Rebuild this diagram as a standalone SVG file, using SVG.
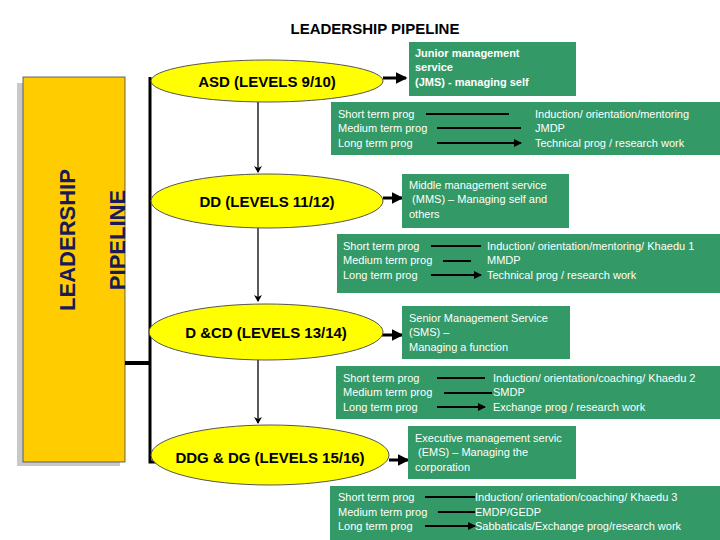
<svg xmlns="http://www.w3.org/2000/svg" width="720" height="540" viewBox="0 0 720 540">
<style>
text{font-family:"Liberation Sans",Arial,sans-serif}
.t{font-size:15px;font-weight:bold;fill:#000}
.g{fill:#339966}
.w{font-size:11px;fill:#fff}
.el{fill:#ffff00;stroke:#555;stroke-width:1}
.a{stroke:#000;stroke-width:2;fill:none;marker-end:url(#ah)}
.b{stroke:#000;stroke-width:3;fill:none;marker-end:url(#ah)}
.v{stroke:#000;stroke-width:1.3;fill:none;marker-end:url(#av)}
</style>
<defs>
<marker id="ah" markerWidth="4" markerHeight="4" refX="3.5" refY="2" orient="auto"><path d="M0,0L4,2L0,4z" fill="#000"/></marker>
<marker id="av" markerWidth="7" markerHeight="8" refX="6" refY="4" orient="auto" markerUnits="userSpaceOnUse"><path d="M0,0L7,4L0,8L2,4z" fill="#000"/></marker>
</defs>
<rect width="720" height="540" fill="#fff"/>
<text x="375" y="34" class="t" text-anchor="middle">LEADERSHIP PIPELINE</text>
<g id="side">
<rect x="17" y="83" width="103" height="383" fill="#c8c8c8"/>
<rect x="23" y="77" width="102" height="385" fill="#ffcc00" stroke="#444" stroke-width="0.8"/>
<text transform="translate(75,240) rotate(-90)" text-anchor="middle" style="font-size:22px;font-weight:bold;fill:#1a1a5a">LEADERSHIP</text>
<text transform="translate(125,240) rotate(-90)" text-anchor="middle" style="font-size:22px;font-weight:bold;fill:#1a1a5a">PIPELINE</text>
</g>
<g id="connectors">
<path d="M150,77V462H160" stroke="#000" stroke-width="3" fill="none"/>
<path d="M125,363H150" stroke="#000" stroke-width="4" fill="none"/>
<path d="M258,102V172" class="v"/>
<path d="M258,228V301" class="v"/>
<path d="M258,360V423" class="v"/>
<path d="M383,78H406" class="b"/>
<path d="M383,198H402" class="b"/>
<path d="M382,335H402" class="b"/>
<path d="M389,460H408" class="b"/>
</g>
<g id="asd"><ellipse cx="267" cy="81" rx="116" ry="21" class="el"/><text x="267" y="87" class="t" text-anchor="middle">ASD (LEVELS 9/10)</text></g>
<g id="dd"><ellipse cx="267" cy="201" rx="116" ry="27" class="el"/><text x="267" y="207" class="t" text-anchor="middle">DD (LEVELS 11/12)</text></g>
<g id="dcd"><ellipse cx="266" cy="332" rx="117" ry="28" class="el"/><text x="266" y="338" class="t" text-anchor="middle">D &amp;CD (LEVELS 13/14)</text></g>
<g id="ddg"><ellipse cx="270" cy="455" rx="119" ry="30" class="el"/><text x="270" y="463" class="t" text-anchor="middle">DDG &amp; DG (LEVELS 15/16)</text></g>
<g id="jms"><rect x="409" y="42" width="167" height="54" class="g"/>
<text class="w" font-weight="bold"><tspan x="415" y="57">Junior management</tspan><tspan x="415" y="71">service</tspan><tspan x="415" y="86">(JMS)  - managing self</tspan></text></g>
<g id="mms"><rect x="402" y="174" width="167" height="54" class="g"/>
<text class="w"><tspan x="409" y="189">Middle management service</tspan><tspan x="409" y="203"> (MMS) – Managing self and</tspan><tspan x="409" y="218">others</tspan></text></g>
<g id="sms"><rect x="402" y="306" width="168" height="53" class="g"/>
<text class="w"><tspan x="409" y="322">Senior Management  Service</tspan><tspan x="409" y="336">(SMS) –</tspan><tspan x="409" y="351">Managing a function</tspan></text></g>
<g id="ems"><rect x="408" y="426" width="168" height="53" class="g"/>
<text class="w"><tspan x="415" y="442">Executive management servic</tspan><tspan x="415" y="456"> (EMS) – Managing the</tspan><tspan x="415" y="471">corporation</tspan></text></g>
<g id="prog1"><rect x="331" y="102" width="389" height="53" class="g"/>
<text class="w"><tspan x="338" y="118">Short term prog</tspan><tspan x="338" y="132">Medium term prog</tspan><tspan x="338" y="147">Long term prog</tspan></text>
<text class="w"><tspan x="535" y="118">Induction/ orientation/mentoring</tspan><tspan x="535" y="132">JMDP</tspan><tspan x="535" y="147">Technical prog / research work</tspan></text>
<path d="M426,114H509M437,128H521M437,143H521" class="a"/></g>
<g id="prog2"><rect x="337" y="234" width="383" height="59" class="g"/>
<text class="w"><tspan x="343" y="250">Short term prog</tspan><tspan x="343" y="264">Medium term prog</tspan><tspan x="343" y="279">Long term prog</tspan></text>
<text class="w"><tspan x="487" y="250">Induction/ orientation/mentoring/ Khaedu 1</tspan><tspan x="487" y="264">MMDP</tspan><tspan x="487" y="279">Technical prog / research work</tspan></text>
<path d="M431,246H481M443,261H471M431,275H481" class="a"/></g>
<g id="prog3"><rect x="336" y="366" width="384" height="53" class="g"/>
<text class="w"><tspan x="343" y="382">Short term prog</tspan><tspan x="343" y="396">Medium term prog</tspan><tspan x="343" y="411">Long term prog</tspan></text>
<text class="w"><tspan x="493" y="382">Induction/ orientation/coaching/ Khaedu 2</tspan><tspan x="493" y="396">SMDP</tspan><tspan x="493" y="411">Exchange prog / research work</tspan></text>
<path d="M437,378H485M444,393H492M437,407H485" class="a"/></g>
<g id="prog4"><rect x="330" y="486" width="390" height="54" class="g"/>
<text class="w"><tspan x="338" y="501">Short term prog</tspan><tspan x="338" y="516">Medium term prog</tspan><tspan x="338" y="530">Long term prog</tspan></text>
<text class="w"><tspan x="475" y="501">Induction/ orientation/coaching/ Khaedu 3</tspan><tspan x="475" y="516">EMDP/GEDP</tspan><tspan x="475" y="530">Sabbaticals/Exchange prog/research work</tspan></text>
<path d="M425,497H475M438,512H475M425,526H475" class="a"/></g>
</svg>
